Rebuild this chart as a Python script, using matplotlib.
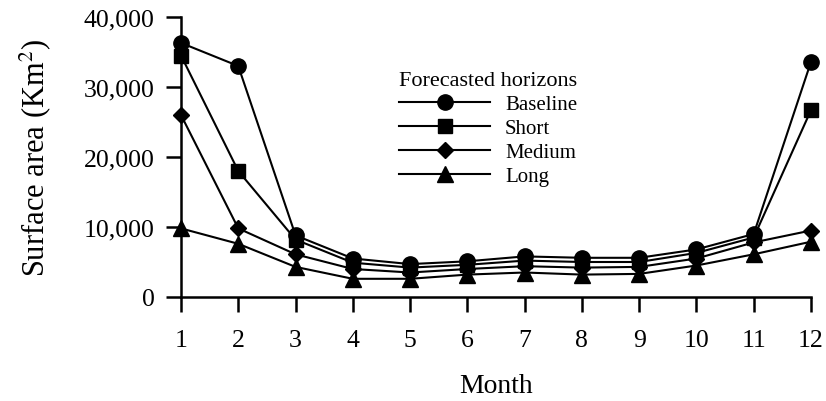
import matplotlib
matplotlib.use("Agg")
import matplotlib.pyplot as plt
from matplotlib.ticker import FuncFormatter

months = [1, 2, 3, 4, 5, 6, 7, 8, 9, 10, 11, 12]
baseline = [36300, 33000, 8800, 5500, 4700, 5100, 5800, 5600, 5600, 6800, 9000, 33600]
short = [34500, 18000, 8200, 4900, 4200, 4600, 5200, 5000, 5000, 6300, 8500, 26700]
medium = [26000, 9800, 6100, 4000, 3500, 4000, 4400, 4200, 4300, 5500, 7800, 9500]
long_ = [9800, 7600, 4300, 2600, 2600, 3200, 3500, 3200, 3300, 4500, 6100, 7900]
series_names = ["Baseline", "Short", "Medium", "Long"]
yticks = [0, 10000, 20000, 30000, 40000]

plt.rcParams["font.family"] = ["Liberation Serif", "DejaVu Serif"]
plt.rcParams["mathtext.fontset"] = "stix"

fig = plt.figure(figsize=(8.26, 4.02), dpi=100)
ax = fig.add_axes([181 / 826, 1 - 298 / 402, (811 - 181) / 826, (298 - 18) / 402])

styles = [("o", 11), ("s", 10.5), ("D", 8), ("^", 11)]
for vals, name, (m, ms) in zip([baseline, short, medium, long_], series_names, styles):
    ax.plot(months, vals, color="black", lw=1.5, marker=m, markersize=ms,
            label=name, clip_on=False, zorder=3)

ax.set_xlim(1, 12)
ax.set_ylim(0, 40000)
ax.set_xticks(months)
ax.set_yticks(yticks)
ax.yaxis.set_major_formatter(FuncFormatter(lambda v, p: f"{int(v):,}"))

for s in ["top", "right"]:
    ax.spines[s].set_visible(False)
for s in ["left", "bottom"]:
    ax.spines[s].set_linewidth(1.8)

ax.tick_params(axis="both", which="major", length=11, width=1.8, labelsize=18.5)
ax.tick_params(axis="y", pad=8)
ax.tick_params(axis="x", pad=12)

ax.set_xlabel("Month", fontsize=20, labelpad=16)
ax.set_ylabel("Surface area (Km$^2$)", fontsize=22, labelpad=22)

leg = ax.legend(loc="upper left", bbox_to_anchor=(380 / 826, 1 - 53 / 402),
                bbox_transform=fig.transFigure, frameon=False,
                title="Forecasted horizons", title_fontsize=16, fontsize=15,
                handlelength=4.4, handletextpad=0.7, labelspacing=0.22,
                alignment="left")

fig.savefig("out.png", dpi=100)
